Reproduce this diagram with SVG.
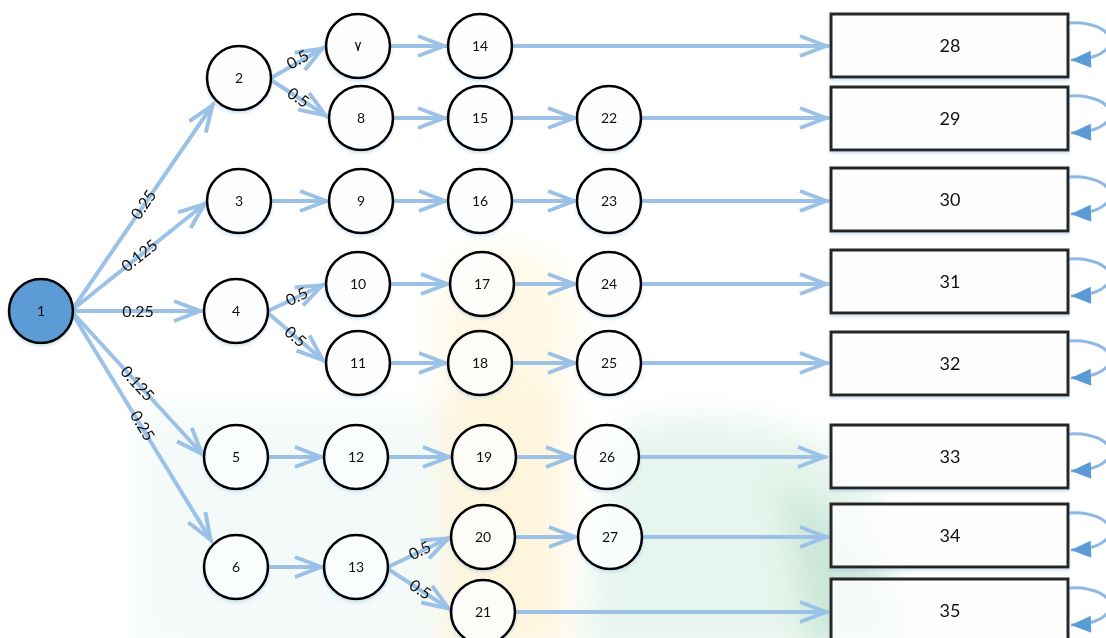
<svg xmlns="http://www.w3.org/2000/svg" width="1106" height="638" viewBox="0 0 1106 638">
  <defs>
    <style>
      .node circle { fill: #ffffff; fill-opacity: 0.72; stroke: #000000; stroke-width: 2.6; filter: url(#glow); }
      .node.start circle { fill: #5B9BD5; fill-opacity: 1; }
      .node rect { fill: #ffffff; fill-opacity: 0.8; stroke: #262626; stroke-width: 3; filter: url(#glow); }
      .node text { font-family: Lato, "DejaVu Sans", sans-serif; font-size: 14px; fill: #111111; text-anchor: middle; }
      .node.state text { font-size: 18px; }
      .edge { fill: none; stroke: #9BC2E6; stroke-width: 4; marker-end: url(#open); }
      .loop { fill: none; stroke: #8DB8E3; stroke-width: 3; marker-end: url(#solid); }
      .lbl { font-family: Lato, "DejaVu Sans", sans-serif; font-size: 16px; fill: #111111; text-anchor: middle; }
    </style>
    <marker id="open" markerUnits="userSpaceOnUse" markerWidth="40" markerHeight="30" viewBox="-34 -15 40 30" refX="0" refY="0" orient="auto">
      <path d="M-29,-10 L-3,0 L-29,10" fill="none" stroke="#9BC2E6" stroke-width="4"/>
    </marker>
    <marker id="solid" markerUnits="userSpaceOnUse" markerWidth="26" markerHeight="20" viewBox="-22 -10 26 20" refX="0" refY="0" orient="auto">
      <path d="M-20,-8.5 L0,0 L-20,8.5 Z" fill="#5B9BD5"/>
    </marker>
    <!-- soft blue shadow drawn only outside the shape -->
    <filter id="glow" x="-20%" y="-20%" width="140%" height="150%">
      <feGaussianBlur in="SourceAlpha" stdDeviation="1.6" result="b"/>
      <feOffset in="b" dy="2" result="o"/>
      <feFlood flood-color="#9DC3E6" flood-opacity="0.5"/>
      <feComposite in2="o" operator="in" result="c"/>
      <feComposite in="c" in2="SourceAlpha" operator="out" result="s"/>
      <feMerge><feMergeNode in="s"/><feMergeNode in="SourceGraphic"/></feMerge>
    </filter>
    <filter id="soft" x="-30%" y="-30%" width="160%" height="160%">
      <feGaussianBlur stdDeviation="16"/>
    </filter>
  </defs>

  <rect width="1106" height="638" fill="#ffffff"/>

  <!-- faint background emblem -->
  <g id="backdrop" filter="url(#soft)">
    <rect x="140" y="410" width="310" height="240" fill="#EEF8F6" opacity="0.7"/>
    <ellipse cx="505" cy="330" rx="70" ry="80" fill="#FFF1CC" opacity="0.5"/>
    <rect x="440" y="390" width="125" height="260" fill="#FFF2D2" opacity="0.75"/>
    <path d="M620,425 Q760,395 870,470 L910,650 L580,650 Z" fill="#DDF2E7" opacity="0.75"/>
    <path d="M780,480 Q835,505 885,575 L900,650 L810,650 Z" fill="#BFE1CE" opacity="0.65"/>
  </g>

  <!-- connectors -->
  <g id="connectors">
    <path class="edge" d="M72,310 L214,103"/>
    <path class="edge" d="M72,310 L207,202"/>
    <path class="edge" d="M72,311 L203,311"/>
    <path class="edge" d="M72,312 L204,456"/>
    <path class="edge" d="M72,313 L212,542"/>

    <path class="edge" d="M271,78 L325,47"/>
    <path class="edge" d="M271,80 L328,117"/>
    <path class="edge" d="M268,311 L325,284"/>
    <path class="edge" d="M268,313 L325,362"/>
    <path class="edge" d="M388,567 L451,537"/>
    <path class="edge" d="M388,569 L451,610"/>

    <path class="edge" d="M390,46 L447,46"/>
    <path class="edge" d="M512,46 L829,46"/>

    <path class="edge" d="M393,118 L447,118"/>
    <path class="edge" d="M512,118 L577,118"/>
    <path class="edge" d="M641,118 L829,118"/>

    <path class="edge" d="M271,201 L329,201"/>
    <path class="edge" d="M393,201 L448,201"/>
    <path class="edge" d="M512,201 L577,201"/>
    <path class="edge" d="M641,201 L829,201"/>

    <path class="edge" d="M390,284 L450,284"/>
    <path class="edge" d="M514,284 L577,284"/>
    <path class="edge" d="M641,284 L829,284"/>

    <path class="edge" d="M390,363 L448,363"/>
    <path class="edge" d="M512,363 L577,363"/>
    <path class="edge" d="M641,363 L829,363"/>

    <path class="edge" d="M268,457 L324,457"/>
    <path class="edge" d="M388,457 L452,457"/>
    <path class="edge" d="M516,457 L575,457"/>
    <path class="edge" d="M639,457 L827,457"/>

    <path class="edge" d="M515,537 L578,537"/>
    <path class="edge" d="M642,537 L829,537"/>

    <path class="edge" d="M268,567 L324,567"/>

    <path class="edge" d="M515,612 L829,612"/>

    <!-- self loops on the absorbing states -->
    <path class="loop" d="M1069,23 C1118,20 1128,58 1071,60"/>
    <path class="loop" d="M1069,96 C1118,93 1128,131 1071,133"/>
    <path class="loop" d="M1069,177 C1118,174 1128,212 1071,214"/>
    <path class="loop" d="M1069,259 C1118,256 1128,294 1071,296"/>
    <path class="loop" d="M1069,341 C1118,338 1128,376 1071,378"/>
    <path class="loop" d="M1069,434 C1118,431 1128,469 1071,471"/>
    <path class="loop" d="M1069,513 C1118,510 1128,548 1071,550"/>
    <path class="loop" d="M1069,588 C1118,585 1128,623 1071,625"/>

    <!-- transition probabilities -->
    <text class="lbl" transform="translate(144,205) rotate(-55.5)" y="5">0.25</text>
    <text class="lbl" transform="translate(140,256) rotate(-38.5)" y="5">0.125</text>
    <text class="lbl" transform="translate(138,312)" y="5">0.25</text>
    <text class="lbl" transform="translate(137,384) rotate(47.5)" y="5">0.125</text>
    <text class="lbl" transform="translate(142,426) rotate(59)" y="5">0.25</text>

    <text class="lbl" transform="translate(298,60) rotate(-30)" y="5">0.5</text>
    <text class="lbl" transform="translate(298,98) rotate(34)" y="5">0.5</text>
    <text class="lbl" transform="translate(297,297) rotate(-26)" y="5">0.5</text>
    <text class="lbl" transform="translate(295,337) rotate(41)" y="5">0.5</text>
    <text class="lbl" transform="translate(420,551) rotate(-26)" y="5">0.5</text>
    <text class="lbl" transform="translate(420,590) rotate(33)" y="5">0.5</text>
  </g>

  <!-- nodes -->
  <g id="n1" class="node start"><circle cx="41" cy="311" r="32"/><text x="41" y="316">1</text></g>
  <g id="n2" class="node"><circle cx="239" cy="78" r="32"/><text x="239" y="83">2</text></g>
  <g id="n3" class="node"><circle cx="239" cy="201" r="32"/><text x="239" y="206">3</text></g>
  <g id="n4" class="node"><circle cx="236" cy="311" r="32"/><text x="236" y="316">4</text></g>
  <g id="n5" class="node"><circle cx="236" cy="457" r="32"/><text x="236" y="462">5</text></g>
  <g id="n6" class="node"><circle cx="236" cy="567" r="32"/><text x="236" y="572">6</text></g>

  <g id="n7" class="node"><circle cx="358" cy="46" r="32"/><text x="358" y="51">٧</text></g>
  <g id="n8" class="node"><circle cx="361" cy="118" r="32"/><text x="361" y="123">8</text></g>
  <g id="n9" class="node"><circle cx="361" cy="201" r="32"/><text x="361" y="206">9</text></g>
  <g id="n10" class="node"><circle cx="358" cy="284" r="32"/><text x="358" y="289">10</text></g>
  <g id="n11" class="node"><circle cx="358" cy="363" r="32"/><text x="358" y="368">11</text></g>
  <g id="n12" class="node"><circle cx="356" cy="457" r="32"/><text x="356" y="462">12</text></g>
  <g id="n13" class="node"><circle cx="356" cy="567" r="32"/><text x="356" y="572">13</text></g>

  <g id="n14" class="node"><circle cx="480" cy="46" r="32"/><text x="480" y="51">14</text></g>
  <g id="n15" class="node"><circle cx="480" cy="118" r="32"/><text x="480" y="123">15</text></g>
  <g id="n16" class="node"><circle cx="480" cy="201" r="32"/><text x="480" y="206">16</text></g>
  <g id="n17" class="node"><circle cx="482" cy="284" r="32"/><text x="482" y="289">17</text></g>
  <g id="n18" class="node"><circle cx="480" cy="363" r="32"/><text x="480" y="368">18</text></g>
  <g id="n19" class="node"><circle cx="484" cy="457" r="32"/><text x="484" y="462">19</text></g>
  <g id="n20" class="node"><circle cx="483" cy="537" r="32"/><text x="483" y="542">20</text></g>
  <g id="n21" class="node"><circle cx="483" cy="612" r="32"/><text x="483" y="617">21</text></g>

  <g id="n22" class="node"><circle cx="609" cy="118" r="32"/><text x="609" y="123">22</text></g>
  <g id="n23" class="node"><circle cx="609" cy="201" r="32"/><text x="609" y="206">23</text></g>
  <g id="n24" class="node"><circle cx="609" cy="284" r="32"/><text x="609" y="289">24</text></g>
  <g id="n25" class="node"><circle cx="609" cy="363" r="32"/><text x="609" y="368">25</text></g>
  <g id="n26" class="node"><circle cx="607" cy="457" r="32"/><text x="607" y="462">26</text></g>
  <g id="n27" class="node"><circle cx="610" cy="537" r="32"/><text x="610" y="542">27</text></g>

  <g id="n28" class="node state"><rect x="831" y="14" width="237" height="63"/><text x="950" y="52">28</text></g>
  <g id="n29" class="node state"><rect x="831" y="87" width="237" height="63"/><text x="950" y="125">29</text></g>
  <g id="n30" class="node state"><rect x="831" y="168" width="237" height="63"/><text x="950" y="206">30</text></g>
  <g id="n31" class="node state"><rect x="831" y="250" width="237" height="63"/><text x="950" y="288">31</text></g>
  <g id="n32" class="node state"><rect x="831" y="332" width="237" height="63"/><text x="950" y="370">32</text></g>
  <g id="n33" class="node state"><rect x="831" y="425" width="237" height="63"/><text x="950" y="463">33</text></g>
  <g id="n34" class="node state"><rect x="831" y="504" width="237" height="63"/><text x="950" y="542">34</text></g>
  <g id="n35" class="node state"><rect x="831" y="579" width="237" height="63"/><text x="950" y="617">35</text></g>
</svg>
